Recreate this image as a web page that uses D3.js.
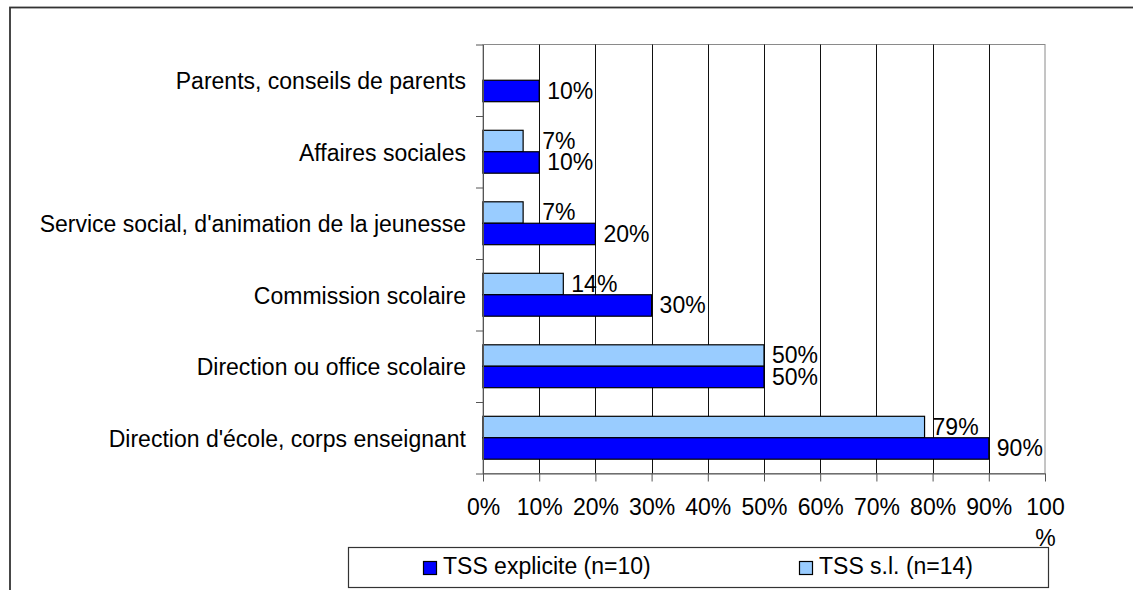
<!DOCTYPE html>
<html>
<head>
<meta charset="utf-8">
<script src="https://cdn.jsdelivr.net/npm/d3@7"></script>
<style>
  html, body { margin: 0; padding: 0; background: #fff; }
  svg { display: block; font-family: "Liberation Sans", Arial, sans-serif; }
</style>
</head>
<body>
<svg id="chart" width="1133" height="590"></svg>
<script>
// ---- data ----
const categories = [
  "Parents, conseils de parents",
  "Affaires sociales",
  "Service social, d'animation de la jeunesse",
  "Commission scolaire",
  "Direction ou office scolaire",
  "Direction d'école, corps enseignant"
];
const seriesNames = ["TSS explicite (n=10)", "TSS s.l. (n=14)"];
const tssExplicite = [10, 10, 20, 30, 50, 90];
const tssSL = [null, 7.14, 7.14, 14.29, 50, 78.57];
const xTickValues = [0, 10, 20, 30, 40, 50, 60, 70, 80, 90, 100];

// ---- layout ----
const plot = { left: 483, right: 1045, top: 44.5, bottom: 473.5 };
const fontSize = 23;
const colorDark = "#0000FF", colorLight = "#99CCFF";

const svg = d3.select("#chart");

// outer chart border
svg.append("rect")
  .attr("x", 10).attr("y", 7.5)
  .attr("width", 1300).attr("height", 700)
  .attr("fill", "#fff").attr("stroke", "#333").attr("stroke-width", 1.8);

const x = d3.scaleLinear().domain([0, 100]).range([plot.left, plot.right]);
const y = d3.scaleBand().domain(categories).range([plot.top, plot.bottom])
  .paddingInner(0.4).paddingOuter(0.2);
const sub = d3.scaleBand().domain(["sl", "explicite"]).range([0, y.bandwidth()]);
const yEdge = d3.scaleLinear().domain([0, categories.length]).range([plot.top, plot.bottom]);

// plot area border
svg.append("rect")
  .attr("x", plot.left).attr("y", plot.top)
  .attr("width", plot.right - plot.left).attr("height", plot.bottom - plot.top)
  .attr("fill", "none").attr("stroke", "#8a8a8a").attr("stroke-width", 1);

// gridlines
svg.append("g").selectAll("line")
  .data(xTickValues.filter(v => v > 0 && v < 100))
  .join("line")
  .attr("x1", d => Math.round(x(d)) + 0.5).attr("x2", d => Math.round(x(d)) + 0.5)
  .attr("y1", plot.top).attr("y2", plot.bottom)
  .attr("stroke", "#111").attr("stroke-width", 1);

// bars
const barData = [];
categories.forEach((c, i) => {
  if (tssSL[i] != null) barData.push({ c, key: "sl", v: tssSL[i] });
  if (tssExplicite[i] != null) barData.push({ c, key: "explicite", v: tssExplicite[i] });
});
const gBars = svg.append("g");
gBars.selectAll("rect")
  .data(barData)
  .join("rect")
  .attr("x", x(0))
  .attr("y", d => y(d.c) + sub(d.key))
  .attr("width", d => x(d.v) - x(0))
  .attr("height", sub.bandwidth())
  .attr("fill", d => d.key === "sl" ? colorLight : colorDark)
  .attr("stroke", "#000").attr("stroke-width", 1.2);

// value labels
gBars.selectAll("text")
  .data(barData)
  .join("text")
  .attr("x", d => x(d.v) + 8 + (Math.round(d.v) < 10 ? 11 : 0))
  .attr("y", d => y(d.c) + sub(d.key) + sub.bandwidth() / 2)
  .attr("dy", "0.33em")
  .attr("font-size", fontSize)
  .attr("fill", "#000")
  .text(d => Math.round(d.v) + "%");

// y axis (ticks at category boundaries)
const yAxis = svg.append("g")
  .attr("transform", `translate(${plot.left},0)`)
  .call(d3.axisLeft(yEdge).tickValues(d3.range(categories.length + 1))
    .tickSize(7).tickSizeOuter(0).tickFormat(""));
yAxis.selectAll("path, line").attr("stroke", "#555");

// category labels
svg.append("g").selectAll("text")
  .data(categories)
  .join("text")
  .attr("x", plot.left - 17)
  .attr("y", d => y(d) + y.bandwidth() / 2)
  .attr("dy", "0.4em")
  .attr("text-anchor", "end")
  .attr("font-size", fontSize)
  .attr("fill", "#000")
  .text(d => d);

// x axis
const xAxis = svg.append("g")
  .attr("transform", `translate(0,${plot.bottom})`)
  .call(d3.axisBottom(x).tickValues(xTickValues).tickSize(8).tickSizeOuter(0)
    .tickPadding(17).tickFormat(d => d + "%"));
xAxis.selectAll("path, line").attr("stroke", "#555");
xAxis.selectAll("text")
  .attr("font-size", fontSize).attr("fill", "#000")
  .attr("font-family", "Liberation Sans, Arial, sans-serif")
  .each(function(d) {
    if (d === 100) {
      const t = d3.select(this).text("");
      t.append("tspan").attr("x", 0).text("100");
      t.append("tspan").attr("x", 0).attr("dy", 31).text("%");
    }
  });

// legend
const legend = svg.append("g");
legend.append("rect")
  .attr("x", 348.5).attr("y", 547.5).attr("width", 700).attr("height", 40)
  .attr("fill", "#fff").attr("stroke", "#333").attr("stroke-width", 1.2);
const legendItems = [
  { name: seriesNames[0], color: colorDark, x: 423 },
  { name: seriesNames[1], color: colorLight, x: 799 }
];
const li = legend.selectAll("g.item").data(legendItems).join("g")
  .attr("class", "item")
  .attr("transform", d => `translate(${d.x},0)`);
li.append("rect")
  .attr("x", 0.5).attr("y", 561.5).attr("width", 13).attr("height", 13)
  .attr("fill", d => d.color).attr("stroke", "#000").attr("stroke-width", 1.2);
li.append("text")
  .attr("x", 20).attr("y", 574)
  .attr("font-size", fontSize).attr("fill", "#000")
  .text(d => d.name);
</script>
</body>
</html>
